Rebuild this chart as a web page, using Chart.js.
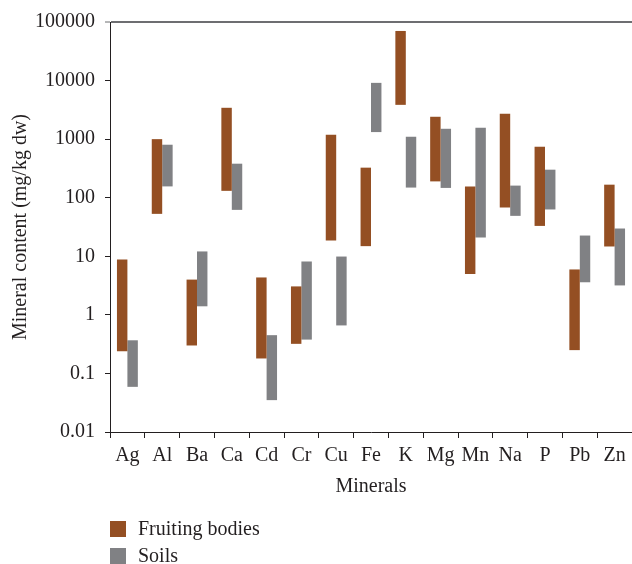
<!DOCTYPE html>
<html>
<head>
<meta charset="utf-8">
<script src="https://cdn.jsdelivr.net/npm/chart.js@4"></script>
<style>
    body { margin: 0; background: #fff; width: 632px; height: 564px; overflow: hidden; }
    #chartMineral { display: block; }
</style>
</head>
<body>
<canvas id="chartMineral" width="632" height="564"></canvas>
<script>
// Data mineral (mg/kg dw), rentang min - max
const categories = ['Ag', 'Al', 'Ba', 'Ca', 'Cd', 'Cr', 'Cu', 'Fe', 'K', 'Mg', 'Mn', 'Na', 'P', 'Pb', 'Zn'];
const fruitLow  = [0.24, 53, 0.30, 131, 0.18, 0.32, 18.6, 14.9, 3850, 190, 5.0, 68, 33, 0.25, 14.7];
const fruitHigh = [8.8, 1000, 4.0, 3430, 4.35, 3.06, 1190, 326, 70300, 2410, 155, 2710, 742, 5.96, 167];
const soilLow   = [0.059, 156, 1.4, 62, 0.035, 0.378, 0.66, 1320, 149, 147, 20.9, 49, 63, 3.6, 3.18];
const soilHigh  = [0.368, 803, 12.1, 381, 0.45, 8.15, 9.9, 9140, 1099, 1503, 1563, 161, 301, 22.6, 29.8];
const yTickValues = [0.01, 0.1, 1, 10, 100, 1000, 10000, 100000];
const seriesNames = ['Fruiting bodies', 'Soils'];
const seriesColors = ['#944f23', '#808184'];

function toRange(low, high) {
    return low.map((v, i) => [v, high[i]]);
}

const textColor = '#231f20';

// Legend digambar sendiri, tersusun vertikal di kiri bawah
const stackedLegend = {
    id: 'stackedLegend',
    afterDraw(chart) {
        const c = chart.ctx;
        c.save();
        c.font = "20px 'Liberation Serif', serif";
        c.textBaseline = 'alphabetic';
        chart.data.datasets.forEach((ds, i) => {
            const top = 521 + i * 27;
            c.fillStyle = ds.backgroundColor;
            c.fillRect(110, top, 16, 16);
            c.fillStyle = textColor;
            c.fillText(ds.label, 138, top + 14);
        });
        c.restore();
    }
};

document.addEventListener('DOMContentLoaded', function() {
    const font = { family: "'Liberation Serif', serif", size: 20 };

    const ctx = document.getElementById('chartMineral').getContext('2d');
    new Chart(ctx, {
        type: 'bar',
        data: {
            labels: categories,
            datasets: [{
                label: seriesNames[0],
                data: toRange(fruitLow, fruitHigh),
                backgroundColor: seriesColors[0],
                borderWidth: 0
            }, {
                label: seriesNames[1],
                data: toRange(soilLow, soilHigh),
                backgroundColor: seriesColors[1],
                borderWidth: 0
            }]
        },
        options: {
            responsive: false,
            animation: false,
            devicePixelRatio: 1,
            categoryPercentage: 0.6,
            barPercentage: 1,
            layout: { padding: { top: 21, right: 0, bottom: 59, left: 0 } },
            scales: {
                x: {
                    afterFit: scale => { scale.height = 73; },
                    grid: {
                        offset: true,
                        drawOnChartArea: false,
                        tickLength: 6,
                        tickColor: textColor,
                        color: textColor
                    },
                    border: { color: textColor, width: 1 },
                    ticks: { color: textColor, font: font, padding: 6, maxRotation: 0 },
                    title: {
                        display: true,
                        text: 'Minerals',
                        color: textColor,
                        font: font,
                        padding: { top: 0, bottom: 6 }
                    }
                },
                y: {
                    type: 'logarithmic',
                    min: 0.01,
                    max: 100000,
                    afterFit: scale => { scale.width = 110; },
                    afterBuildTicks: scale => {
                        scale.ticks = yTickValues.map(v => ({ value: v }));
                    },
                    grid: {
                        tickLength: 5,
                        tickWidth: 1,
                        color: c => (c.tick && c.tick.value === 100000) ? '#6d6e71' : 'rgba(0,0,0,0)',
                        lineWidth: c => (c.tick && c.tick.value === 100000) ? 2 : 1,
                        tickColor: c => (c.tick && c.tick.value === 100000) ? '#6d6e71' : textColor
                    },
                    border: { color: textColor, width: 1 },
                    ticks: {
                        color: textColor,
                        font: font,
                        padding: 10,
                        autoSkip: false,
                        callback: value => String(value)
                    },
                    title: {
                        display: true,
                        text: 'Mineral content (mg/kg dw)',
                        color: textColor,
                        font: font,
                        padding: { top: 9, bottom: 0 }
                    }
                }
            },
            plugins: {
                legend: { display: false },
                tooltip: { enabled: false }
            }
        },
        plugins: [stackedLegend]
    });
});
</script>
</body>
</html>
